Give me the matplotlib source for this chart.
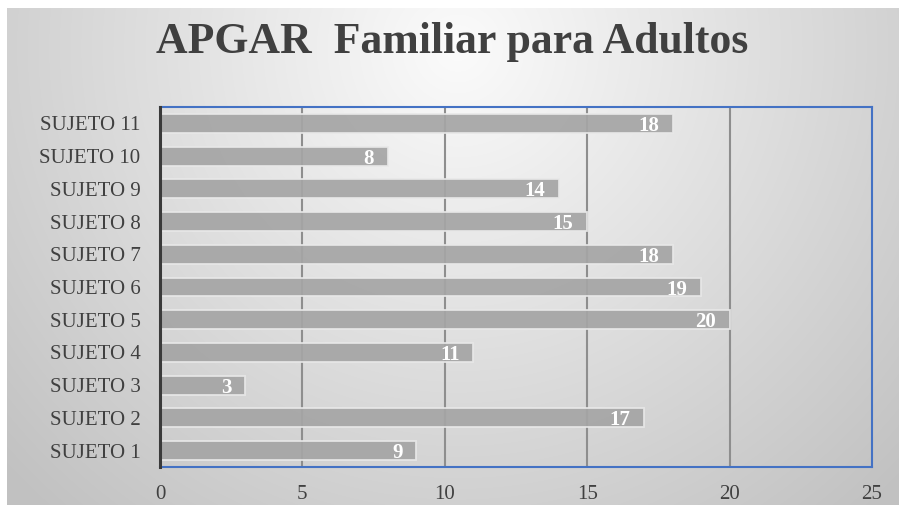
import numpy as np
import matplotlib
matplotlib.use("Agg")
import matplotlib.pyplot as plt

categories = ["SUJETO 1", "SUJETO 2", "SUJETO 3", "SUJETO 4", "SUJETO 5", "SUJETO 6",
              "SUJETO 7", "SUJETO 8", "SUJETO 9", "SUJETO 10", "SUJETO 11"]
values = [9, 17, 3, 11, 20, 19, 18, 15, 14, 8, 18]
xticks = [0, 5, 10, 15, 20, 25]
title = "APGAR  Familiar para Adultos"

W, H = 905, 507
fig = plt.figure(figsize=(W / 100, H / 100), dpi=100)
fig.patch.set_facecolor("white")

# background gradient
bg = fig.add_axes([7 / W, 2 / H, 891 / W, 497 / H])
yy, xx = np.mgrid[0:497, 0:891]
cx, cy = 450, 40
d = np.sqrt(((xx - cx) / 600.0) ** 2 + ((yy - cy) / 600.0) ** 2)
g = 0.985 - 0.22 * np.clip(d, 0, 1.2)
g = np.clip(g, 0.76, 0.985)
bg.imshow(np.dstack([g, g, g]), aspect="auto", interpolation="bilinear")
bg.set_axis_off()

ax = fig.add_axes([160 / W, 1 - 467 / H, 712 / W, 360 / H])
ax.set_facecolor("none")
y = np.arange(len(categories))
ax.set_xlim(0, 25)
ax.set_ylim(-0.5, len(categories) - 0.5)

for xv in xticks[1:-1]:
    ax.axvline(xv, color="#8e8e8e", lw=1.5, zorder=1)

ax.barh(y, values, height=0.58, color="#a5a5a5", edgecolor="#e8e8e8", linewidth=1.3,
        alpha=0.92, zorder=2)

for yi, v in zip(y, values):
    ax.text(v - 0.48, yi, str(v), ha="right", va="center_baseline", color="white",
            fontsize=15, fontweight="bold", family="Liberation Serif", zorder=3)

ax.set_yticks(y)
ax.set_yticklabels(categories, family="Liberation Serif", fontsize=15, color="#404040")
ax.set_xticks(xticks)
ax.set_xticklabels([str(t) for t in xticks], family="Liberation Serif", fontsize=15,
                   color="#404040")
ax.tick_params(axis="y", length=0, pad=14)
ax.tick_params(axis="x", length=0, pad=13)

for s in ["top", "right", "bottom"]:
    ax.spines[s].set_color("#4472c4")
    ax.spines[s].set_linewidth(1.5)
ax.spines["left"].set_color("#3a3a3a")
ax.spines["left"].set_linewidth(2.2)
ax.spines["left"].set_zorder(4)

fig.text(452 / W, 1 - 42 / H, title, ha="center", va="center", family="Liberation Serif",
         fontweight="bold", fontsize=31.5, color="#404040")

fig.savefig("out.png", dpi=100, facecolor="white")
